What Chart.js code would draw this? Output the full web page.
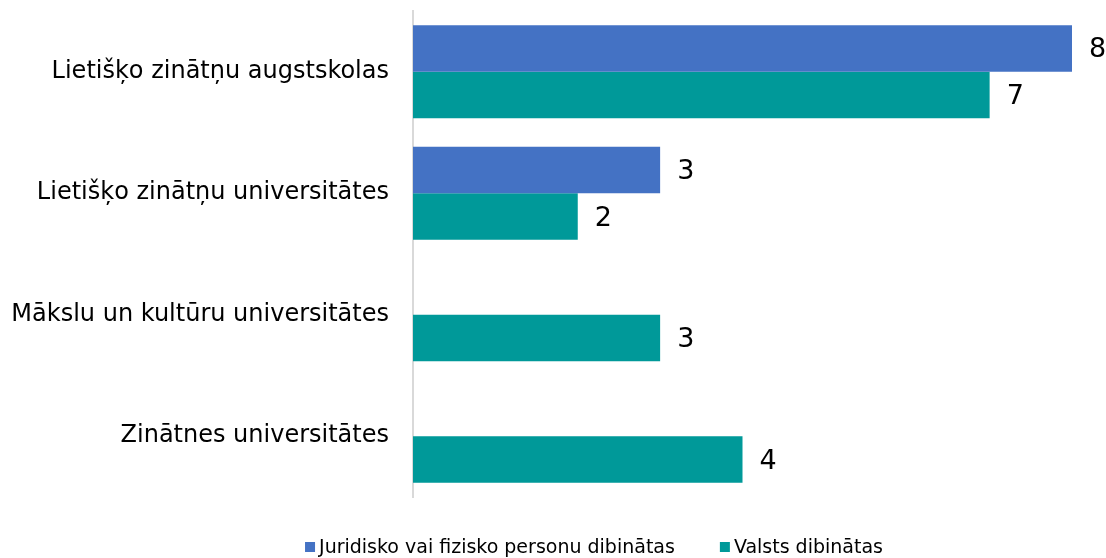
<!DOCTYPE html>
<html>
<head>
<meta charset="utf-8">
<script src="https://cdn.jsdelivr.net/npm/chart.js@4/dist/chart.umd.min.js"></script>
<style>
  html, body { margin: 0; padding: 0; background: #fff; }
  #wrap { width: 1106px; height: 558px; }
</style>
</head>
<body>
<div id="wrap"><canvas id="chart"></canvas></div>
<script>
const categories = [
  "Lietišķo zinātņu augstskolas",
  "Lietišķo zinātņu universitātes",
  "Mākslu un kultūru universitātes",
  "Zinātnes universitātes",
];
const juridiskoValues = [8, 3, null, null];
const valstsValues = [7, 2, 3, 4];
const xMax = 8;

const FONT = "'DejaVu Sans', Verdana, sans-serif";

// draw the value next to each bar
const valueLabels = {
  id: "valueLabels",
  afterDatasetsDraw(chart) {
    const ctx = chart.ctx;
    ctx.save();
    ctx.font = "27px " + FONT;
    ctx.fillStyle = "#000";
    ctx.textBaseline = "middle";
    ctx.textAlign = "left";
    chart.data.datasets.forEach((ds, i) => {
      const meta = chart.getDatasetMeta(i);
      meta.data.forEach((bar, j) => {
        if (ds.data[j] == null) return;
        ctx.fillText(ds.data[j], bar.x + 17, bar.y + 2);
      });
    });
    ctx.restore();
  },
};

// legend drawn by hand: small square, tight gap, text
const bottomLegend = {
  id: "bottomLegend",
  afterDraw(chart) {
    const ctx = chart.ctx;
    const box = 10, gap = 4, spacing = 45;
    ctx.save();
    ctx.font = "19px " + FONT;
    ctx.textBaseline = "middle";
    ctx.textAlign = "left";
    const items = chart.data.datasets.map((ds) => ({
      text: ds.label,
      color: ds.backgroundColor,
      w: box + gap + ctx.measureText(ds.label).width,
    }));
    const total = items.reduce((s, it) => s + it.w, 0) + spacing * (items.length - 1);
    let x = 594 - total / 2;
    const y = 547;
    items.forEach((it) => {
      ctx.fillStyle = it.color;
      ctx.fillRect(x, y - box / 2, box, box);
      ctx.fillStyle = "#000";
      ctx.fillText(it.text, x + box + gap, y + 1);
      x += it.w + spacing;
    });
    ctx.restore();
  },
};

new Chart(document.getElementById("chart"), {
  type: "bar",
  data: {
    labels: categories,
    datasets: [
      {
        label: "Juridisko vai fizisko personu dibinātas",
        data: juridiskoValues,
        backgroundColor: "#4472c4",
      },
      {
        label: "Valsts dibinātas",
        data: valstsValues,
        backgroundColor: "#009999",
      },
    ],
  },
  options: {
    indexAxis: "y",
    responsive: true,
    maintainAspectRatio: false,
    animation: false,
    layout: { padding: { top: 11, right: 34, left: 0, bottom: 61 } },
    datasets: {
      bar: { categoryPercentage: 0.766, barPercentage: 1.0 },
    },
    scales: {
      x: {
        min: 0,
        max: xMax,
        display: false,
      },
      y: {
        grid: { display: false, drawTicks: false },
        border: { display: true, color: "#d9d9d9", width: 2 },
        ticks: {
          color: "#000",
          font: { family: FONT, size: 24 },
          padding: 24,
        },
        afterFit(scale) {
          scale.width = 413;
          scale.paddingTop = 0;
          scale.paddingBottom = 0;
        },
      },
    },
    plugins: {
      legend: { display: false },
      tooltip: { enabled: false },
    },
  },
  plugins: [valueLabels, bottomLegend],
});
</script>
</body>
</html>
